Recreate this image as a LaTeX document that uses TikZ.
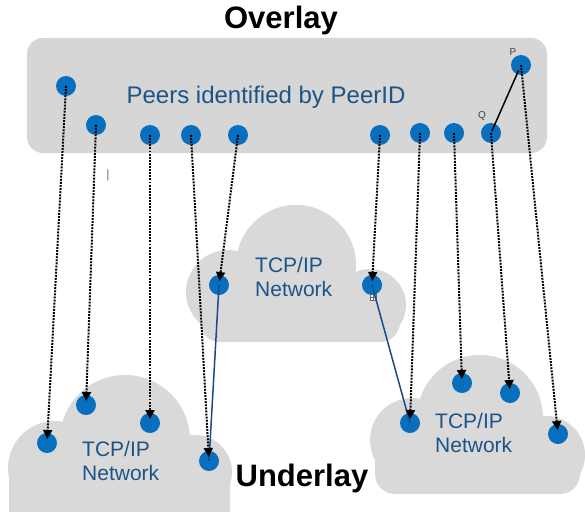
\documentclass[tikz,border=0pt]{standalone}
\usepackage{fontspec}
\setmainfont{Liberation Sans}
\usetikzlibrary{arrows.meta}
\definecolor{boxgray}{RGB}{214,214,214}
\definecolor{cloudgray}{RGB}{217,217,217}
\definecolor{peerblue}{RGB}{8,110,190}
\definecolor{textblue}{RGB}{28,84,136}
\definecolor{linkblue}{RGB}{24,76,132}

\tikzset{
  peer/.style = {circle, fill=peerblue, minimum size=20pt, inner sep=0pt},
  map/.style = {line width=2pt, dash pattern=on 1.9pt off 1.2pt,
                -{Triangle[width=9pt,length=9pt]}, shorten >=4pt},
  link/.style = {line width=1.5pt, draw=linkblue},
  cloud/.style = {fill=cloudgray},
  nettext/.style = {text=textblue, font=\fontsize{21}{24}\selectfont,
                    align=left, anchor=north west, inner sep=0pt},
  title/.style = {font=\fontsize{31}{34}\selectfont\bfseries},
  tag/.style = {text=black!75, font=\fontsize{10}{12}\selectfont}
}

\begin{document}
\begin{tikzpicture}[x=1pt, y=-1pt]
\useasboundingbox (0,0) rectangle (585,511);

% overlay box
\fill[boxgray, rounded corners=16pt] (27,38) rectangle (547,153);

% clouds
\fill[cloud] (296,265) circle[radius=60];
\fill[cloud] (228,292) circle[radius=42];
\fill[cloud] (370,305) circle[radius=36];
\fill[cloud, rounded corners=20pt] (200,290) rectangle (400,342);

\fill[cloud] (125,440) circle[radius=65];
\fill[cloud] (55,468) circle[radius=47];
\fill[cloud] (195,472) circle[radius=37];
\fill[cloud, rounded corners=14pt] (9,460) rectangle (230,530);

\fill[cloud] (480,418) circle[radius=63];
\fill[cloud] (412,440) circle[radius=42];
\fill[cloud] (546,455) circle[radius=39];
\fill[cloud, rounded corners=20pt] (375,440) rectangle (580,494);

% texts
\node[title] (ovltitle) at (281,20) {Overlay};
\node[title] (undtitle) at (302,478) {Underlay};
\node[text=textblue, font=\fontsize{24}{28}\selectfont] (peerid) at (266,97) {Peers identified by PeerID};
\node[nettext] (mnet) at (255,257) {TCP/IP\\Network};
\node[nettext] (lnet) at (82,441) {TCP/IP\\Network};
\node[nettext] (rnet) at (435,413) {TCP/IP\\Network};
\node[text=black!55, font=\fontsize{12}{12}\selectfont] (cursor) at (108,175) {|};

% overlay peers
\node[peer] (o1) at (66,86) {};
\node[peer] (o2) at (96,125) {};
\node[peer] (o3) at (150,135) {};
\node[peer] (o4) at (191,135) {};
\node[peer] (o5) at (238,135) {};
\node[peer] (o6) at (380,135) {};
\node[peer] (o7) at (420,133) {};
\node[peer] (o8) at (454,133) {};
\node[peer] (oq) at (491,133) {};
\node[peer] (op) at (521,65) {};
\node[tag] (plabel) at (513,52) {P};
\node[tag] (qlabel) at (482,116) {Q};

% underlay peers
\node[peer] (m1) at (219,285) {};
\node[peer] (m2) at (372,285) {};
\node[peer] (l1) at (47,443) {};
\node[peer] (l2) at (86,405) {};
\node[peer] (l3) at (150,423) {};
\node[peer] (l4) at (209,461) {};
\node[peer] (r1) at (410,423) {};
\node[peer] (r2) at (462,383) {};
\node[peer] (r3) at (510,393) {};
\node[peer] (r4) at (558,434) {};

\node[draw=black!60, fill=white, minimum size=6pt, inner sep=0pt, line width=0.5pt] (icon) at (373,297) {};
\draw[black!60, line width=0.5pt] (icon.north) -- (icon.south) (icon.west) -- (icon.east);

% links
\draw[line width=1.5pt, shorten <=2pt, shorten >=6pt] (oq.center) -- (op.center);
\draw[link] (m1.center) -- (l4.center);
\draw[link] (m2.center) -- (r1.center);

% mapping
\draw[map] (o1.center) -- (l1.center);
\draw[map] (o2.center) -- (l2.center);
\draw[map] (o3.center) -- (l3.center);
\draw[map] (o4.center) -- (l4.center);
\draw[map] (o5.center) -- (m1.center);
\draw[map] (o6.center) -- (m2.center);
\draw[map] (o7.center) -- (r1.center);
\draw[map] (o8.center) -- (r2.center);
\draw[map] (oq.center) -- (r3.center);
\draw[map] (op.center) -- (r4.center);
\end{tikzpicture}
\end{document}
